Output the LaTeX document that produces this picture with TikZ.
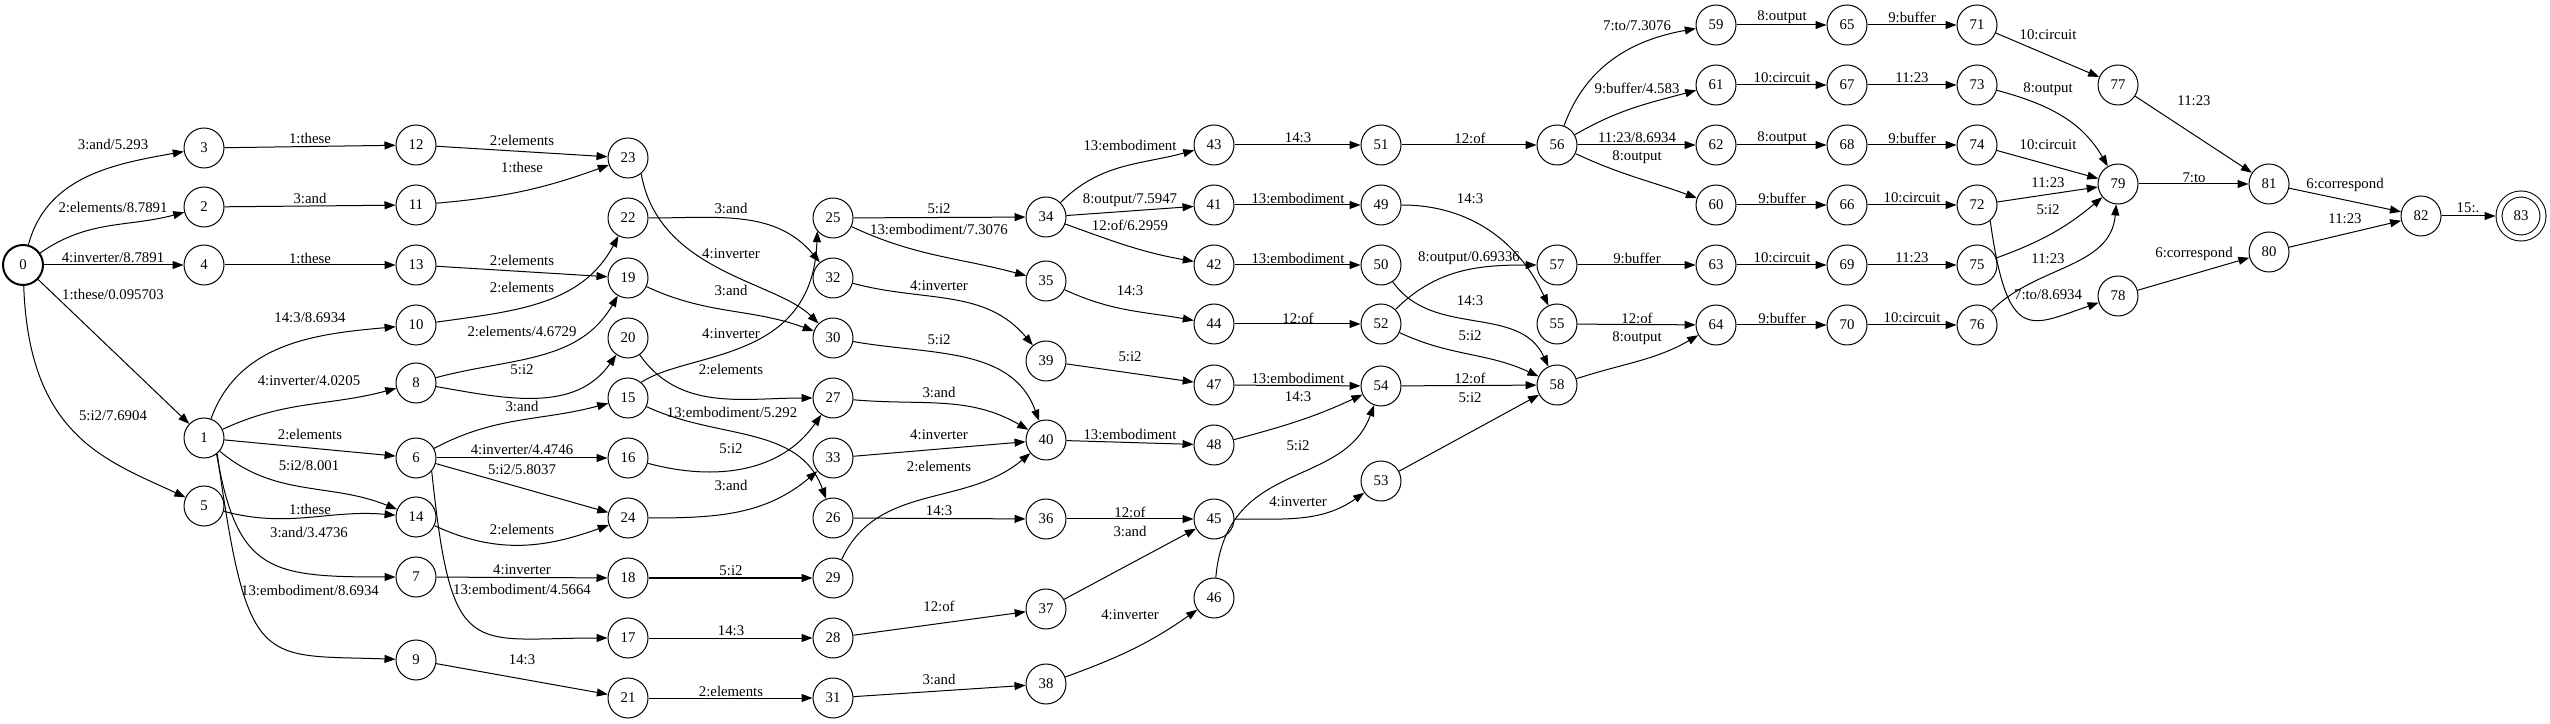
\documentclass[tikz,border=0pt]{standalone}
\usepackage{fontspec}
\setmainfont{Liberation Serif}
\usetikzlibrary{arrows.meta}

\begin{document}
\begin{tikzpicture}[
  x=1pt, y=1pt,
  st/.style={draw, circle, minimum size=40pt, inner sep=0pt, line width=1pt,
             font=\fontsize{14.8}{17}\selectfont},
  init/.style={st, line width=2pt},
  acc/.style={st, minimum size=44pt, double, double distance=5pt, outer sep=3.5pt},
  tr/.style={line width=1pt, -{Triangle[length=11pt,width=8pt]}},
  lbl/.style={inner sep=0pt, font=\fontsize{14.8}{17}\selectfont},
]
\useasboundingbox (0,0) rectangle (2550,723);
\node[init] (n0) at (23,458) {0};
\node[st] (n3) at (204,575) {3};
\node[st] (n2) at (204,516) {2};
\node[st] (n4) at (204,458) {4};
\node[st] (n1) at (204,285) {1};
\node[st] (n5) at (204,217) {5};
\node[st] (n12) at (416,578) {12};
\node[st] (n11) at (416,518) {11};
\node[st] (n13) at (416,458) {13};
\node[st] (n10) at (416,398) {10};
\node[st] (n8) at (416,340) {8};
\node[st] (n6) at (416,265) {6};
\node[st] (n14) at (416,206) {14};
\node[st] (n7) at (416,146) {7};
\node[st] (n9) at (416,63) {9};
\node[st] (n23) at (628,565) {23};
\node[st] (n22) at (628,505) {22};
\node[st] (n19) at (628,445) {19};
\node[st] (n20) at (628,385) {20};
\node[st] (n15) at (628,325) {15};
\node[st] (n16) at (628,265) {16};
\node[st] (n24) at (628,205) {24};
\node[st] (n18) at (628,145) {18};
\node[st] (n17) at (628,85) {17};
\node[st] (n21) at (628,25) {21};
\node[st] (n25) at (833,505) {25};
\node[st] (n32) at (833,445) {32};
\node[st] (n30) at (833,385) {30};
\node[st] (n27) at (833,325) {27};
\node[st] (n33) at (833,265) {33};
\node[st] (n26) at (833,205) {26};
\node[st] (n29) at (833,145) {29};
\node[st] (n28) at (833,85) {28};
\node[st] (n31) at (833,25) {31};
\node[st] (n34) at (1046,506) {34};
\node[st] (n35) at (1046,442) {35};
\node[st] (n39) at (1046,362) {39};
\node[st] (n40) at (1046,283) {40};
\node[st] (n36) at (1046,204) {36};
\node[st] (n37) at (1046,114) {37};
\node[st] (n38) at (1046,39) {38};
\node[st] (n43) at (1214,578) {43};
\node[st] (n41) at (1214,518) {41};
\node[st] (n42) at (1214,458) {42};
\node[st] (n44) at (1214,399) {44};
\node[st] (n47) at (1214,338) {47};
\node[st] (n48) at (1214,278) {48};
\node[st] (n45) at (1214,204) {45};
\node[st] (n46) at (1214,125) {46};
\node[st] (n51) at (1381,578) {51};
\node[st] (n49) at (1381,518) {49};
\node[st] (n50) at (1381,458) {50};
\node[st] (n52) at (1381,399) {52};
\node[st] (n54) at (1381,337) {54};
\node[st] (n53) at (1381,242) {53};
\node[st] (n56) at (1557,578) {56};
\node[st] (n57) at (1557,458) {57};
\node[st] (n55) at (1557,399) {55};
\node[st] (n58) at (1557,338) {58};
\node[st] (n59) at (1716,698) {59};
\node[st] (n61) at (1716,638) {61};
\node[st] (n62) at (1716,578) {62};
\node[st] (n60) at (1716,518) {60};
\node[st] (n63) at (1716,458) {63};
\node[st] (n64) at (1716,398) {64};
\node[st] (n65) at (1847,698) {65};
\node[st] (n67) at (1847,638) {67};
\node[st] (n68) at (1847,578) {68};
\node[st] (n66) at (1847,518) {66};
\node[st] (n69) at (1847,458) {69};
\node[st] (n70) at (1847,398) {70};
\node[st] (n71) at (1977,698) {71};
\node[st] (n73) at (1977,638) {73};
\node[st] (n74) at (1977,578) {74};
\node[st] (n72) at (1977,518) {72};
\node[st] (n75) at (1977,458) {75};
\node[st] (n76) at (1977,398) {76};
\node[st] (n77) at (2118,638) {77};
\node[st] (n79) at (2118,539) {79};
\node[st] (n78) at (2118,427) {78};
\node[st] (n81) at (2269,539) {81};
\node[st] (n80) at (2269,471) {80};
\node[st] (n82) at (2421,507) {82};
\node[acc] (n83) at (2521,507) {83};

\draw[tr] (n0) to[out=75,in=190] (n3) node[lbl] (e0-3) at (113,579) {3:and/5.293};
\draw[tr] (n0) to[out=35,in=195] (n2) node[lbl] (e0-2) at (113,516) {2:elements/8.7891};
\draw[tr] (n0) -- (n4) node[lbl] (e0-4) at (113,465) {4:inverter/8.7891};
\draw[tr] (n0) -- (n1) node[lbl] (e0-1) at (113,429) {1:these/0.095703};
\draw[tr] (n0) to[out=-88,in=155,out distance=150pt,in distance=88pt] (n5) node[lbl] (e0-5) at (113,307) {5:i2/7.6904};

\draw[tr] (n3) -- (n12) node[lbl] (e3-12) at (310,585) {1:these};
\draw[tr] (n2) -- (n11) node[lbl] (e2-11) at (310,525) {3:and};
\draw[tr] (n4) -- (n13) node[lbl] (e4-13) at (310,465) {1:these};
\draw[tr] (n1) to[out=70,in=185] (n10) node[lbl] (e1-10) at (310,405) {14:3/8.6934};
\draw[tr] (n1) to[out=25,in=195] (n8) node[lbl] (e1-8) at (309,342) {4:inverter/4.0205};
\draw[tr] (n1) -- (n6) node[lbl] (e1-6) at (310,289) {2:elements};
\draw[tr] (n1) to[out=-40,in=158] (n14) node[lbl] (e1-14) at (309,257) {5:i2/8.001};
\draw[tr] (n1.-52) to[out=-80,in=180,out distance=120pt,in distance=126pt] (n7) node[lbl] (e1-7) at (309,191) {3:and/3.4736};
\draw[tr] (n1.-50) to[out=-82,in=178,out distance=220pt,in distance=136pt] (n9) node[lbl] (e1-9) at (310,133) {13:embodiment/8.6934};
\draw[tr] (n5) to[out=-15,in=175] (n14) node[lbl] (e5-14) at (310,214) {1:these};

\draw[tr] (n12) -- (n23) node[lbl] (e12-23) at (522,583) {2:elements};
\draw[tr] (n11) to[out=5,in=200] (n23) node[lbl] (e11-23) at (522,556) {1:these};
\draw[tr] (n13) -- (n19) node[lbl] (e13-19) at (522,463) {2:elements};
\draw[tr] (n10) to[out=8,in=-118] (n22) node[lbl] (e10-22) at (522,436) {2:elements};
\draw[tr] (n8) to[out=15,in=-120] (n19) node[lbl] (e8-19) at (522,392) {2:elements/4.6729};
\draw[tr] (n8) to[out=-10,in=-125] (n20) node[lbl] (e8-20) at (522,353) {5:i2};
\draw[tr] (n6) to[out=28,in=195] (n15) node[lbl] (e6-15) at (522,317) {3:and};
\draw[tr] (n6) -- (n16) node[lbl] (e6-16) at (522,273) {4:inverter/4.4746};
\draw[tr] (n6) -- (n24) node[lbl] (e6-24) at (522,253) {5:i2/5.8037};
\draw[tr] (n6.-40) to[out=-84,in=180,out distance=193pt,in distance=138pt] (n17) node[lbl] (e6-17) at (522,134) {13:embodiment/4.5664};
\draw[tr] (n14) to[out=-25,in=200] (n24) node[lbl] (e14-24) at (522,194) {2:elements};
\draw[tr] (n7) -- (n18) node[lbl] (e7-18) at (522,153) {4:inverter};
\draw[tr] (n9) -- (n21) node[lbl] (e9-21) at (522,63) {14:3};

\draw[tr] (n23.-50) to[out=-80,in=135,out distance=100pt,in distance=60pt] (n30) node[lbl] (e23-30) at (731,469) {4:inverter};
\draw[tr] (n22) to[out=0,in=130] (n32) node[lbl] (e22-32) at (731,515) {3:and};
\draw[tr] (n19) to[out=-25,in=160] (n30) node[lbl] (e19-30) at (731,433) {3:and};
\draw[tr] (n20) to[out=-55,in=180] (n27) node[lbl] (e20-27) at (731,354) {2:elements};
\draw[tr] (n15.50) to[out=33,in=-92,out distance=58pt,in distance=132pt] (n25.-140) node[lbl] (e15-25) at (731,389) {4:inverter};
\draw[tr] (n15) to[out=-25,in=110] (n26) node[lbl] (e15-26) at (732,311) {13:embodiment/5.292};
\draw[tr] (n16) to[out=-15,in=-125] (n27) node[lbl] (e16-27) at (731,274) {5:i2};
\draw[tr] (n24) to[out=0,in=-140] (n33) node[lbl] (e24-33) at (731,238) {3:and};
\draw[tr] (n18) -- (n29) node[lbl] (e18-29) at (731,152) {5:i2};
\draw[tr] (n17) -- (n28) node[lbl] (e17-28) at (731,92) {14:3};
\draw[tr] (n21) -- (n31) node[lbl] (e21-31) at (731,32) {2:elements};

\draw[tr] (n25) -- (n34) node[lbl] (e25-34) at (939,514) {5:i2};
\draw[tr] (n25) to[out=-25,in=165] (n35) node[lbl] (e25-35) at (939,494) {13:embodiment/7.3076};
\draw[tr] (n32) to[out=-15,in=130] (n39) node[lbl] (e32-39) at (939,437) {4:inverter};
\draw[tr] (n30) to[out=-10,in=110] (n40) node[lbl] (e30-40) at (939,383) {5:i2};
\draw[tr] (n27) to[out=-5,in=150] (n40) node[lbl] (e27-40) at (939,331) {3:and};
\draw[tr] (n33) -- (n40) node[lbl] (e33-40) at (939,288) {4:inverter};
\draw[tr] (n29) to[out=65,in=-140] (n40) node[lbl] (e29-40) at (939,257) {2:elements};
\draw[tr] (n26) -- (n36) node[lbl] (e26-36) at (939,212) {14:3};
\draw[tr] (n28) -- (n37) node[lbl] (e28-37) at (939,117) {12:of};
\draw[tr] (n31) -- (n38) node[lbl] (e31-38) at (939,44) {3:and};

\draw[tr] (n34) to[out=45,in=195] (n43) node[lbl] (e34-43) at (1130,578) {13:embodiment};
\draw[tr] (n34) -- (n41) node[lbl] (e34-41) at (1130,523) {8:output/7.5947};
\draw[tr] (n34) to[out=-20,in=170] (n42) node[lbl] (e34-42) at (1130,498) {12:of/6.2959};
\draw[tr] (n35) to[out=-25,in=170] (n44) node[lbl] (e35-44) at (1130,432) {14:3};
\draw[tr] (n39) -- (n47) node[lbl] (e39-47) at (1130,366) {5:i2};
\draw[tr] (n40) -- (n48) node[lbl] (e40-48) at (1130,289) {13:embodiment};
\draw[tr] (n36) -- (n45) node[lbl] (e36-45) at (1130,211) {12:of};
\draw[tr] (n37) -- (n45) node[lbl] (e37-45) at (1130,192) {3:and};
\draw[tr] (n38) to[out=20,in=-145] (n46) node[lbl] (e38-46) at (1130,108) {4:inverter};

\draw[tr] (n43) -- (n51) node[lbl] (e43-51) at (1298,585) {14:3};
\draw[tr] (n41) -- (n49) node[lbl] (e41-49) at (1298,525) {13:embodiment};
\draw[tr] (n42) -- (n50) node[lbl] (e42-50) at (1298,465) {13:embodiment};
\draw[tr] (n44) -- (n52) node[lbl] (e44-52) at (1298,405) {12:of};
\draw[tr] (n47) -- (n54) node[lbl] (e47-54) at (1298,345) {13:embodiment};
\draw[tr] (n48) to[out=15,in=-155] (n54) node[lbl] (e48-54) at (1298,326) {14:3};
\draw[tr] (n46) to[out=85,in=-110,out distance=120pt,in distance=90pt] (n54) node[lbl] (e46-54) at (1298,277) {5:i2};
\draw[tr] (n45) to[out=0,in=-145] (n53) node[lbl] (e45-53) at (1298,221) {4:inverter};

\draw[tr] (n51) -- (n56) node[lbl] (e51-56) at (1470,585) {12:of};
\draw[tr] (n49) to[out=0,in=115] (n55) node[lbl] (e49-55) at (1470,524) {14:3};
\draw[tr] (n50) to[out=-55,in=115] (n58) node[lbl] (e50-58) at (1470,422) {14:3};
\draw[tr] (n52) to[out=45,in=180] (n57) node[lbl] (e52-57) at (1469,465) {8:output/0.69336};
\draw[tr] (n52) to[out=-25,in=155] (n58) node[lbl] (e52-58) at (1470,387) {5:i2};
\draw[tr] (n54) -- (n58) node[lbl] (e54-58) at (1470,345) {12:of};
\draw[tr] (n53) -- (n58) node[lbl] (e53-58) at (1470,325) {5:i2};

\draw[tr] (n56) to[out=70,in=190] (n59) node[lbl] (e56-59) at (1637,697) {7:to/7.3076};
\draw[tr] (n56) to[out=30,in=195] (n61) node[lbl] (e56-61) at (1637,635) {9:buffer/4.583};
\draw[tr] (n56) -- (n62) node[lbl] (e56-62) at (1637,585) {11:23/8.6934};
\draw[tr] (n56) to[out=-25,in=160] (n60) node[lbl] (e56-60) at (1637,566) {8:output};
\draw[tr] (n57) -- (n63) node[lbl] (e57-63) at (1637,465) {9:buffer};
\draw[tr] (n55) -- (n64) node[lbl] (e55-64) at (1637,405) {12:of};
\draw[tr] (n58) to[out=18,in=-150] (n64) node[lbl] (e58-64) at (1637,385) {8:output};

\draw[tr] (n59) -- (n65) node[lbl] (e59-65) at (1782,706) {8:output};
\draw[tr] (n65) -- (n71) node[lbl] (e65-71) at (1912,706) {9:buffer};
\draw[tr] (n61) -- (n67) node[lbl] (e61-67) at (1782,645) {10:circuit};
\draw[tr] (n67) -- (n73) node[lbl] (e67-73) at (1912,645) {11:23};
\draw[tr] (n62) -- (n68) node[lbl] (e62-68) at (1782,585) {8:output};
\draw[tr] (n68) -- (n74) node[lbl] (e68-74) at (1912,585) {9:buffer};
\draw[tr] (n60) -- (n66) node[lbl] (e60-66) at (1782,525) {9:buffer};
\draw[tr] (n66) -- (n72) node[lbl] (e66-72) at (1912,525) {10:circuit};
\draw[tr] (n63) -- (n69) node[lbl] (e63-69) at (1782,465) {10:circuit};
\draw[tr] (n69) -- (n75) node[lbl] (e69-75) at (1912,465) {11:23};
\draw[tr] (n64) -- (n70) node[lbl] (e64-70) at (1782,405) {9:buffer};
\draw[tr] (n70) -- (n76) node[lbl] (e70-76) at (1912,405) {10:circuit};

\draw[tr] (n71) -- (n77) node[lbl] (e71-77) at (2048,688) {10:circuit};
\draw[tr] (n73) to[out=-15,in=120] (n79) node[lbl] (e73-79) at (2048,634) {8:output};
\draw[tr] (n74) -- (n79) node[lbl] (e74-79) at (2048,578) {10:circuit};
\draw[tr] (n72) -- (n79) node[lbl] (e72-79) at (2048,540) {11:23};
\draw[tr] (n75) to[out=20,in=-140] (n79) node[lbl] (e75-79) at (2048,513) {5:i2};
\draw[tr] (n76) to[out=45,in=-95] (n79) node[lbl] (e76-79) at (2048,464) {11:23};
\draw[tr] (n72.-50) to[out=-82,in=199,out distance=125pt,in distance=73pt] (n78) node[lbl] (e72-78) at (2048,428) {7:to/8.6934};

\draw[tr] (n77) -- (n81) node[lbl] (e77-81) at (2194,622) {11:23};
\draw[tr] (n79) -- (n81) node[lbl] (e79-81) at (2194,545) {7:to};
\draw[tr] (n78) -- (n80) node[lbl] (e78-80) at (2194,469) {6:correspond};
\draw[tr] (n81) -- (n82) node[lbl] (e81-82) at (2345,538) {6:correspond};
\draw[tr] (n80) -- (n82) node[lbl] (e80-82) at (2345,504) {11:23};
\draw[tr] (n82) -- (n83) node[lbl] (e82-83) at (2468,515) {15:.};
\end{tikzpicture}
\end{document}
